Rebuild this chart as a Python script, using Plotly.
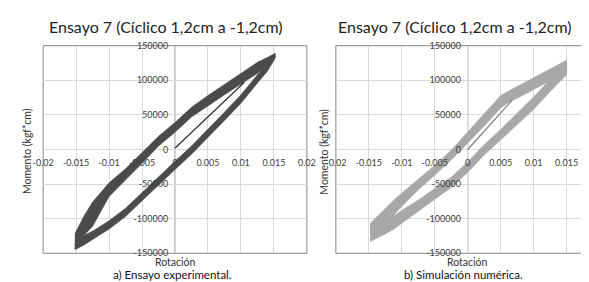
import plotly.graph_objects as go

# ---------------- data ----------------
rot_grid = [-0.0152, -0.0138, -0.0125, -0.01, -0.0075, -0.005, -0.0025, 0.0, 0.0025, 0.005, 0.0075, 0.01, 0.0125, 0.014, 0.0152]

# a) experimental: upper branch band (edges), lower branch band (edges)
exp_up_top = [-122000, -96000, -76000, -48000, -28000, -5000, 19000, 39000, 61000, 78000, 94000, 110000, 126000, 133000, 139000]
exp_up_bot = [-143000, -124000, -111000, -68000, -44000, -20000, 5000, 25000, 47000, 63000, 79000, 95000, 110000, 121000, 134000]
exp_lo_top = [-136000, -124000, -118000, -103000, -85000, -62000, -39000, -17000, 5000, 29000, 54000, 79000, 108000, 122000, 137000]
exp_lo_bot = [-145000, -138000, -130000, -115000, -97000, -74000, -51000, -29000, -7000, 17000, 42000, 67000, 96000, 113000, 132000]
exp_init_rot = [0.0, 0.0105]
exp_init_mom = [2000, 97000]

# b) numerical simulation
sim_grid = [-0.0148, -0.0125, -0.0112, -0.01, -0.0075, -0.005, -0.0025, 0.0, 0.0025, 0.005, 0.0065, 0.0075, 0.01, 0.0125, 0.015]
sim_up_top = [-107000, -85000, -73000, -63000, -43000, -23000, -1000, 25000, 51000, 78000, 86000, 91000, 103000, 116000, 129000]
sim_up_bot = [-127000, -104000, -95000, -82000, -58000, -37000, -15000, 9000, 34000, 60000, 70000, 74000, 87000, 99000, 112000]
sim_lo_top = [-110000, -100000, -96000, -88000, -73000, -57000, -40000, -18000, 7000, 29000, 43000, 52000, 76000, 101000, 122000]
sim_lo_bot = [-133000, -122000, -115000, -106000, -89000, -72000, -55000, -33000, -8000, 14000, 27000, 36000, 58000, 84000, 108000]
sim_init_rot = [0.0, 0.0068]
sim_init_mom = [0, 72000]

x_ticks = [-0.02, -0.015, -0.01, -0.005, 0, 0.005, 0.01, 0.015, 0.02]
x_tick_text = ["-0.02", "-0.015", "-0.01", "-0.005", "0", "0.005", "0.01", "0.015", "0.02"]
y_ticks = [-150000, -100000, -50000, 0, 50000, 100000, 150000]
y_tick_text = ["-150000", "-100000", "-50000", "0", "50000", "100000", "150000"]

title_txt = "Ensayo 7 (Cíclico 1,2cm a -1,2cm)"
cap_a = "a) Ensayo experimental."
cap_b = "b) Simulación numérica."

# ---------------- figure ----------------
W, H = 589, 282
FONT = "Lato"
fig = go.Figure()

def band(xg, top, bot, color, xa, ya):
    fig.add_trace(go.Scatter(
        x=list(xg) + list(xg)[::-1], y=list(top) + list(bot)[::-1],
        mode="lines", fill="toself", fillcolor=color,
        line=dict(color=color, width=0.6),
        xaxis=xa, yaxis=ya, hoverinfo="skip", showlegend=False))

band(rot_grid, exp_up_top, exp_up_bot, "#4b4b4b", "x", "y")
band(rot_grid, exp_lo_top, exp_lo_bot, "#4b4b4b", "x", "y")
fig.add_trace(go.Scatter(x=exp_init_rot, y=exp_init_mom, mode="lines",
                         line=dict(color="#1a1a1a", width=1.3), xaxis="x", yaxis="y",
                         showlegend=False, hoverinfo="skip"))

band(sim_grid, sim_up_top, sim_up_bot, "#a8a8a8", "x2", "y2")
band(sim_grid, sim_lo_top, sim_lo_bot, "#a8a8a8", "x2", "y2")
fig.add_trace(go.Scatter(x=sim_init_rot, y=sim_init_mom, mode="lines",
                         line=dict(color="#808080", width=1.2), xaxis="x2", yaxis="y2",
                         showlegend=False, hoverinfo="skip"))

# pixel geometry
L1, R1 = 25, 298
L2 = 328
px_per_unit = (R1 - L1) / 0.04
R2x = -0.02 + (W - L2) / px_per_unit
TOP, BOT = 33, 249
ydom = [1 - BOT / H, 1 - TOP / H]
ymid = (ydom[0] + ydom[1]) / 2

def xpaper(px):
    return px / W

x1dom = [xpaper(L1), xpaper(R1)]
x2dom = [xpaper(L2), 1.0]
x1zero = xpaper(L1 + 0.02 * px_per_unit)
x2zero = xpaper(L2 + 0.02 * px_per_unit)

tickfont = dict(family=FONT, size=9, color="#404040")
common_x = dict(tickmode="array", tickvals=x_ticks, ticktext=x_tick_text,
                showgrid=True, gridcolor="#d9d9d9", gridwidth=1,
                zeroline=False, showline=False,
                ticks="outside", ticklen=5, tickcolor="rgba(0,0,0,0)",
                tickfont=tickfont, anchor="free", position=ymid)
common_y = dict(tickmode="array", tickvals=y_ticks, ticktext=y_tick_text,
                range=[-150000, 150000], domain=ydom,
                showgrid=True, gridcolor="#d9d9d9", gridwidth=1,
                zeroline=False, showline=False,
                ticks="outside", ticklen=5, tickcolor="rgba(0,0,0,0)",
                tickfont=tickfont, anchor="free")

fig.update_layout(
    width=W, height=H, margin=dict(l=0, r=0, t=0, b=0),
    paper_bgcolor="white", plot_bgcolor="white", showlegend=False,
    xaxis=dict(common_x, domain=x1dom, range=[-0.02, 0.02]),
    yaxis=dict(common_y, position=x1zero),
    xaxis2=dict(common_x, domain=x2dom, range=[-0.02, R2x]),
    yaxis2=dict(common_y, position=x2zero),
)

AX = "#868686"
shapes = []
for xr, yr, right in [("x", "y", True), ("x2", "y2", False)]:
    sides = [(0, 0, 1, 0), (0, 1, 1, 1), (0, 0, 0, 1)]
    if right:
        sides.append((1, 0, 1, 1))
    for x0, y0, x1, y1 in sides:
        shapes.append(dict(type="line", xref=xr + " domain", yref=yr + " domain",
                           x0=x0, y0=y0, x1=x1, y1=y1, line=dict(color=AX, width=1), layer="below"))
    shapes.append(dict(type="line", xref=xr, yref=yr + " domain", x0=0, x1=0, y0=0, y1=1,
                       line=dict(color=AX, width=1), layer="below"))
    shapes.append(dict(type="line", xref=xr + " domain", yref=yr, x0=0, x1=1, y0=0, y1=0,
                       line=dict(color=AX, width=1), layer="below"))
fig.update_layout(shapes=shapes)

ann = []
def text(x, y, s, size, angle=0, color="#222222"):
    ann.append(dict(x=x, y=y, xref="paper", yref="paper", text=s, showarrow=False,
                    font=dict(family=FONT, size=size, color=color), textangle=angle,
                    xanchor="center", yanchor="middle"))

text(152 / W, 1 - 13 / H, title_txt, 16)
text(451 / W, 1 - 13 / H, title_txt, 16)
text(x1zero, 1 - 258 / H, "Rotación", 10.5, color="#333333")
text(x2zero, 1 - 258 / H, "Rotación", 10.5, color="#333333")
text(159 / W, 1 - 271 / H, cap_a, 11.5, color="#111111")
text(460 / W, 1 - 271 / H, cap_b, 11.5, color="#111111")
text(9 / W, 1 - 143 / H, "Momento (kgf*cm)", 10.5, angle=-90, color="#333333")
text(316 / W, 1 - 143 / H, "Momento (kgf*cm)", 10.5, angle=-90, color="#333333")
fig.update_layout(annotations=ann)

fig.write_html("out.html")
